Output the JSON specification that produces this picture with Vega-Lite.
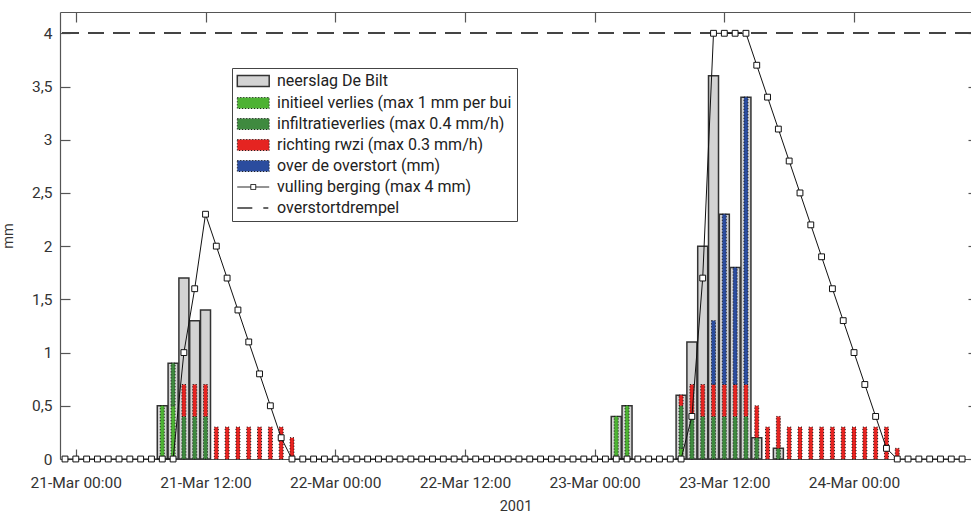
{
  "$schema": "https://vega.github.io/schema/vega-lite/v6.json",
  "autosize": "none",
  "padding": {"left": 60, "top": 12, "right": 0, "bottom": 56},
  "width": 911,
  "height": 447,
  "background": "white",
  "config": {
    "font": "Roboto",
    "view": {"stroke": null},
    "axis": {"domainColor": "#555", "tickColor": "#555", "labelColor": "#333", "labelFontSize": 15.5, "titleFontSize": 14.5, "titleFontWeight": "normal", "titleColor": "#333", "grid": false, "domainWidth": 1.2, "tickWidth": 1.2}
  },
  "data": {"values": [
    {"t": "2001-03-20T23:00Z", "v": 0},
    {"t": "2001-03-21T00:00Z", "v": 0},
    {"t": "2001-03-21T01:00Z", "v": 0},
    {"t": "2001-03-21T02:00Z", "v": 0},
    {"t": "2001-03-21T03:00Z", "v": 0},
    {"t": "2001-03-21T04:00Z", "v": 0},
    {"t": "2001-03-21T05:00Z", "v": 0},
    {"t": "2001-03-21T06:00Z", "v": 0},
    {"t": "2001-03-21T07:00Z", "v": 0},
    {"t": "2001-03-21T08:00Z", "n": 0.5, "b_init": 0.5, "v": 0},
    {"t": "2001-03-21T09:00Z", "n": 0.9, "b_init": 0.5, "c_infil": 0.4, "v": 0},
    {"t": "2001-03-21T10:00Z", "n": 1.7, "c_infil": 0.4, "d_rwzi": 0.3, "v": 1.0},
    {"t": "2001-03-21T11:00Z", "n": 1.3, "c_infil": 0.4, "d_rwzi": 0.3, "v": 1.6},
    {"t": "2001-03-21T12:00Z", "n": 1.4, "c_infil": 0.4, "d_rwzi": 0.3, "v": 2.3},
    {"t": "2001-03-21T13:00Z", "d_rwzi": 0.3, "v": 2.0},
    {"t": "2001-03-21T14:00Z", "d_rwzi": 0.3, "v": 1.7},
    {"t": "2001-03-21T15:00Z", "d_rwzi": 0.3, "v": 1.4},
    {"t": "2001-03-21T16:00Z", "d_rwzi": 0.3, "v": 1.1},
    {"t": "2001-03-21T17:00Z", "d_rwzi": 0.3, "v": 0.8},
    {"t": "2001-03-21T18:00Z", "d_rwzi": 0.3, "v": 0.5},
    {"t": "2001-03-21T19:00Z", "d_rwzi": 0.3, "v": 0.2},
    {"t": "2001-03-21T20:00Z", "d_rwzi": 0.2, "v": 0},
    {"t": "2001-03-21T21:00Z", "v": 0},
    {"t": "2001-03-21T22:00Z", "v": 0},
    {"t": "2001-03-21T23:00Z", "v": 0},
    {"t": "2001-03-22T00:00Z", "v": 0},
    {"t": "2001-03-22T01:00Z", "v": 0},
    {"t": "2001-03-22T02:00Z", "v": 0},
    {"t": "2001-03-22T03:00Z", "v": 0},
    {"t": "2001-03-22T04:00Z", "v": 0},
    {"t": "2001-03-22T05:00Z", "v": 0},
    {"t": "2001-03-22T06:00Z", "v": 0},
    {"t": "2001-03-22T07:00Z", "v": 0},
    {"t": "2001-03-22T08:00Z", "v": 0},
    {"t": "2001-03-22T09:00Z", "v": 0},
    {"t": "2001-03-22T10:00Z", "v": 0},
    {"t": "2001-03-22T11:00Z", "v": 0},
    {"t": "2001-03-22T12:00Z", "v": 0},
    {"t": "2001-03-22T13:00Z", "v": 0},
    {"t": "2001-03-22T14:00Z", "v": 0},
    {"t": "2001-03-22T15:00Z", "v": 0},
    {"t": "2001-03-22T16:00Z", "v": 0},
    {"t": "2001-03-22T17:00Z", "v": 0},
    {"t": "2001-03-22T18:00Z", "v": 0},
    {"t": "2001-03-22T19:00Z", "v": 0},
    {"t": "2001-03-22T20:00Z", "v": 0},
    {"t": "2001-03-22T21:00Z", "v": 0},
    {"t": "2001-03-22T22:00Z", "v": 0},
    {"t": "2001-03-22T23:00Z", "v": 0},
    {"t": "2001-03-23T00:00Z", "v": 0},
    {"t": "2001-03-23T01:00Z", "v": 0},
    {"t": "2001-03-23T02:00Z", "n": 0.4, "b_init": 0.4, "v": 0},
    {"t": "2001-03-23T03:00Z", "n": 0.5, "b_init": 0.5, "v": 0},
    {"t": "2001-03-23T04:00Z", "v": 0},
    {"t": "2001-03-23T05:00Z", "v": 0},
    {"t": "2001-03-23T06:00Z", "v": 0},
    {"t": "2001-03-23T07:00Z", "v": 0},
    {"t": "2001-03-23T08:00Z", "n": 0.6, "b_init": 0.1, "c_infil": 0.4, "d_rwzi": 0.1, "v": 0},
    {"t": "2001-03-23T09:00Z", "n": 1.1, "c_infil": 0.4, "d_rwzi": 0.3, "v": 0.4},
    {"t": "2001-03-23T10:00Z", "n": 2.0, "c_infil": 0.4, "d_rwzi": 0.3, "v": 1.7},
    {"t": "2001-03-23T11:00Z", "n": 3.6, "c_infil": 0.4, "d_rwzi": 0.3, "e_over": 0.6, "v": 4.0},
    {"t": "2001-03-23T12:00Z", "n": 2.3, "c_infil": 0.4, "d_rwzi": 0.3, "e_over": 1.6, "v": 4.0},
    {"t": "2001-03-23T13:00Z", "n": 1.8, "c_infil": 0.4, "d_rwzi": 0.3, "e_over": 1.1, "v": 4.0},
    {"t": "2001-03-23T14:00Z", "n": 3.4, "c_infil": 0.4, "d_rwzi": 0.3, "e_over": 2.7, "v": 4.0},
    {"t": "2001-03-23T15:00Z", "n": 0.2, "c_infil": 0.2, "d_rwzi": 0.3, "v": 3.7},
    {"t": "2001-03-23T16:00Z", "d_rwzi": 0.3, "v": 3.4},
    {"t": "2001-03-23T17:00Z", "n": 0.1, "c_infil": 0.1, "d_rwzi": 0.3, "v": 3.1},
    {"t": "2001-03-23T18:00Z", "d_rwzi": 0.3, "v": 2.8},
    {"t": "2001-03-23T19:00Z", "d_rwzi": 0.3, "v": 2.5},
    {"t": "2001-03-23T20:00Z", "d_rwzi": 0.3, "v": 2.2},
    {"t": "2001-03-23T21:00Z", "d_rwzi": 0.3, "v": 1.9},
    {"t": "2001-03-23T22:00Z", "d_rwzi": 0.3, "v": 1.6},
    {"t": "2001-03-23T23:00Z", "d_rwzi": 0.3, "v": 1.3},
    {"t": "2001-03-24T00:00Z", "d_rwzi": 0.3, "v": 1.0},
    {"t": "2001-03-24T01:00Z", "d_rwzi": 0.3, "v": 0.7},
    {"t": "2001-03-24T02:00Z", "d_rwzi": 0.3, "v": 0.4},
    {"t": "2001-03-24T03:00Z", "d_rwzi": 0.3, "v": 0.1},
    {"t": "2001-03-24T04:00Z", "d_rwzi": 0.1, "v": 0},
    {"t": "2001-03-24T05:00Z", "v": 0},
    {"t": "2001-03-24T06:00Z", "v": 0},
    {"t": "2001-03-24T07:00Z", "v": 0},
    {"t": "2001-03-24T08:00Z", "v": 0},
    {"t": "2001-03-24T09:00Z", "v": 0},
    {"t": "2001-03-24T10:00Z", "v": 0}
  ]},
  "resolve": {"axis": {"x": "independent", "y": "independent"}},
  "layer": [
    {
      "transform": [{"filter": "datum.n > 0"}],
      "mark": {"type": "bar", "size": 10, "fill": "#d3d3d3", "stroke": "#333", "strokeWidth": 1.5},
      "encoding": {
        "x": {"field": "t", "type": "temporal",
          "scale": {"type": "utc", "domain": [{"year": 2001, "month": 3, "date": 20, "hours": 23, "utc": true}, {"year": 2001, "month": 3, "date": 24, "hours": 10, "minutes": 21, "seconds": 36, "utc": true}]},
          "axis": {"orient": "bottom", "title": "2001", "titlePadding": 9, "tickSize": -10, "labelPadding": 26,
            "values": [{"year": 2001, "month": 3, "date": 21, "hours": 0, "utc": true}, {"year": 2001, "month": 3, "date": 21, "hours": 12, "utc": true}, {"year": 2001, "month": 3, "date": 22, "hours": 0, "utc": true}, {"year": 2001, "month": 3, "date": 22, "hours": 12, "utc": true}, {"year": 2001, "month": 3, "date": 23, "hours": 0, "utc": true}, {"year": 2001, "month": 3, "date": 23, "hours": 12, "utc": true}, {"year": 2001, "month": 3, "date": 24, "hours": 0, "utc": true}],
            "labelExpr": "utcFormat(datum.value, '%d-%b %H:%M')"}},
        "y": {"field": "n", "type": "quantitative",
          "scale": {"domain": [0, 4.2], "nice": false, "zero": true},
          "axis": {"orient": "left", "title": "mm", "titlePadding": 16, "tickSize": -10, "labelPadding": 18,
            "values": [0, 0.5, 1, 1.5, 2, 2.5, 3, 3.5, 4],
            "labelExpr": "replace(format(datum.value, '~g'), '.', ',')"}}
      }
    },
    {
      "transform": [{"fold": ["b_init", "c_infil", "d_rwzi", "e_over"], "as": ["key", "mm"]}, {"filter": "datum.mm > 0"}],
      "mark": {"type": "bar", "size": 4, "stroke": "#111", "strokeWidth": 1, "strokeDash": [1, 2]},
      "encoding": {
        "x": {"field": "t", "type": "temporal", "axis": null},
        "y": {"field": "mm", "type": "quantitative", "stack": "zero", "axis": null},
        "color": {"field": "key", "type": "nominal", "title": null,
          "scale": {"domain": ["a_neerslag", "b_init", "c_infil", "d_rwzi", "e_over", "f_vulling", "g_drempel"],
                    "range": ["#d3d3d3", "#4db233", "#3f8a3f", "#e52421", "#2b4c9e", "white", "transparent"]},
          "legend": {
            "orient": "none", "legendX": 172, "legendY": 56, "title": null,
            "fillColor": "white", "strokeColor": "#444", "padding": 5,
            "labelFont": "Roboto", "labelFontSize": 16, "labelColor": "#222", "labelLimit": 500,
            "symbolSize": 121, "labelOffset": 24, "rowPadding": 5,
            "symbolType": {"expr": "datum.value == 'f_vulling' ? 'M-1.4,0H1.05M1.95,0H4.4M1.05,-0.45H1.95V0.45H1.05Z' : datum.value == 'g_drempel' ? 'M-1.4,0H1.33M3.33,0H4.24' : 'M-1.4,-1H4.4V1H-1.4Z'"},
            "symbolStrokeColor": {"expr": "datum.value == 'a_neerslag' || datum.value == 'g_drempel' ? '#333' : '#111'"},
            "symbolDash": {"expr": "indexof(['b_init','c_infil','d_rwzi','e_over'], datum.value) >= 0 ? [1, 2] : [1, 0]"},
            "symbolStrokeWidth": {"expr": "datum.value == 'a_neerslag' ? 1.5 : datum.value == 'g_drempel' ? 1.3 : 1"},
            "symbolOpacity": 1,
            "labelExpr": "datum.value == 'a_neerslag' ? 'neerslag De Bilt' : datum.value == 'b_init' ? 'initieel verlies (max 1 mm per bui' : datum.value == 'c_infil' ? 'infiltratieverlies (max 0.4 mm/h)' : datum.value == 'd_rwzi' ? 'richting rwzi (max 0.3 mm/h)' : datum.value == 'e_over' ? 'over de overstort (mm)' : datum.value == 'f_vulling' ? 'vulling berging (max 4 mm)' : 'overstortdrempel'"
          }},
        "order": {"field": "key", "sort": "ascending"}
      }
    },
    {
      "mark": {"type": "rule", "color": "#444", "strokeDash": [16, 9.5], "strokeWidth": 1.3},
      "encoding": {
        "y": {"datum": 4, "type": "quantitative", "axis": null}
      }
    },
    {
      "mark": {"type": "line", "color": "#111", "strokeWidth": 1},
      "encoding": {
        "x": {"field": "t", "type": "temporal",
          "axis": {"orient": "top", "labels": false, "title": null, "tickSize": -10, "domain": true,
            "values": [{"year": 2001, "month": 3, "date": 21, "hours": 0, "utc": true}, {"year": 2001, "month": 3, "date": 21, "hours": 12, "utc": true}, {"year": 2001, "month": 3, "date": 22, "hours": 0, "utc": true}, {"year": 2001, "month": 3, "date": 22, "hours": 12, "utc": true}, {"year": 2001, "month": 3, "date": 23, "hours": 0, "utc": true}, {"year": 2001, "month": 3, "date": 23, "hours": 12, "utc": true}, {"year": 2001, "month": 3, "date": 24, "hours": 0, "utc": true}]}},
        "y": {"field": "v", "type": "quantitative",
          "axis": {"orient": "right", "labels": false, "title": null, "tickSize": -10, "domain": false, "offset": 7,
            "values": [0, 0.5, 1, 1.5, 2, 2.5, 3, 3.5, 4]}}
      }
    },
    {
      "mark": {"type": "point", "shape": "square", "filled": true, "fill": "white", "stroke": "#111", "strokeWidth": 1, "size": 34, "opacity": 1},
      "encoding": {
        "x": {"field": "t", "type": "temporal", "axis": null},
        "y": {"field": "v", "type": "quantitative", "axis": null}
      }
    }
  ]
}
